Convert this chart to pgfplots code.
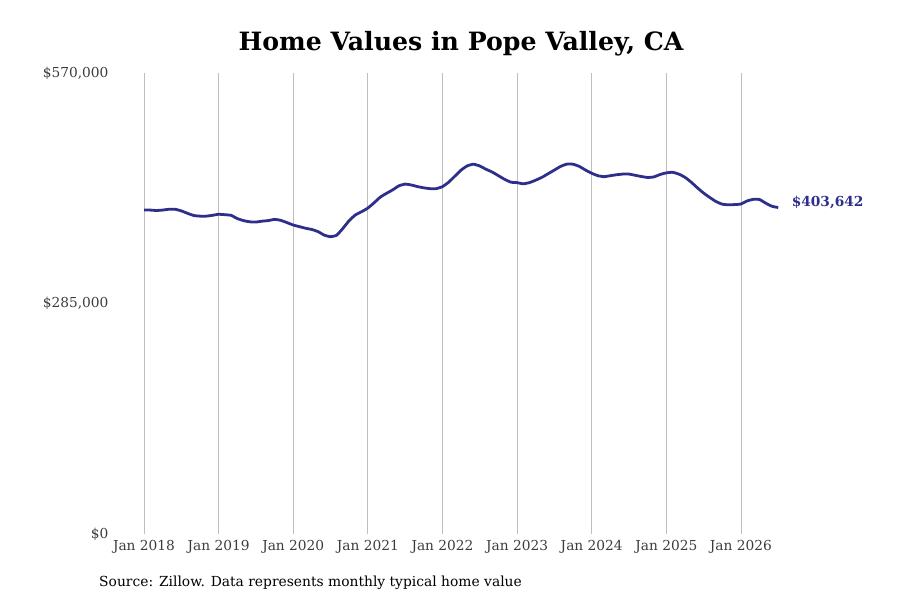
\documentclass[border=0pt]{standalone}
\usepackage{pgfplots}
\pgfplotsset{compat=1.18}
\usepackage{fontspec}
\setmainfont{DejaVu Serif}
\definecolor{linec}{RGB}{46,46,139}
\definecolor{tickc}{RGB}{60,60,60}
\definecolor{gridc}{RGB}{190,190,190}
\begin{document}
\begin{tikzpicture}[x=1bp,y=1bp]
\path[use as bounding box] (0,0) rectangle (900,600);
\begin{axis}[
  at={(120bp,66bp)}, anchor=south west,
  scale only axis, width=680bp, height=461bp,
  xmin=-3.86, xmax=105.5, ymin=0, ymax=570000,
  axis line style={draw=none},
  xtick={0,12,24,36,48,60,72,84,96},
  xticklabels={Jan 2018,Jan 2019,Jan 2020,Jan 2021,Jan 2022,Jan 2023,Jan 2024,Jan 2025,Jan 2026},
  ytick={0,285000,570000},
  yticklabels={{\$0},{\$285,000},{\$570,000}},
  scaled y ticks=false,
  major tick length=0pt,
  xmajorgrids, ymajorgrids=false,
  grid style={gridc, line width=0.8bp},
  tick label style={font=\fontsize{13.8}{16}\selectfont, text=tickc},
  xticklabel style={yshift=-3bp},
  yticklabel style={xshift=-8bp},
  /pgf/number format/assume math mode=true,
  clip=false,
]
\addplot[linec, line width=2.8bp, smooth, tension=0.3] table[x=m,y=v] {
m v
0 400600
1 400500
2 400000
3 400500
4 401500
5 401500
6 399500
7 396500
8 393800
9 393000
10 393000
11 394000
12 395300
13 394800
14 394000
15 390000
16 387500
17 386000
18 385700
19 386800
20 387500
21 389000
22 387800
23 385000
24 382000
25 380000
26 378000
27 376500
28 373800
29 369500
30 367600
31 369500
32 378000
33 387500
34 394500
35 398500
36 403000
37 409500
38 416500
39 421200
40 425500
41 430500
42 432600
43 431500
44 429500
45 428000
46 427000
47 427000
48 429500
49 435000
50 442500
51 450000
52 455200
53 457200
54 455000
55 451000
56 447500
57 443000
58 438500
59 435000
60 434400
61 433000
62 434500
63 437500
64 441000
65 445500
66 450000
67 454500
68 457300
69 457200
70 454500
71 450000
72 446000
73 443000
74 441800
75 443000
76 444200
77 445000
78 445000
79 443500
80 442000
81 440800
82 441500
83 444500
84 446500
85 447200
86 445000
87 441000
88 435000
89 428000
90 421500
91 416000
92 411000
93 407800
94 407000
95 407300
96 408000
97 411800
98 413800
99 413500
100 409000
101 405200
102 403642
};
\node[anchor=west, text=linec, font=\bfseries\fontsize{13.8}{16}\selectfont, xshift=10bp] at (axis cs:102,410000) {\$403,642};
\end{axis}
\node[font=\bfseries\fontsize{25.3}{30}\selectfont] at (461,556) {Home Values in Pope Valley, CA};
\node[anchor=base west, font=\fontsize{13.9}{16}\selectfont, inner sep=0pt] at (99,13) {Source: Zillow. Data represents monthly typical home value};
\end{tikzpicture}
\end{document}
